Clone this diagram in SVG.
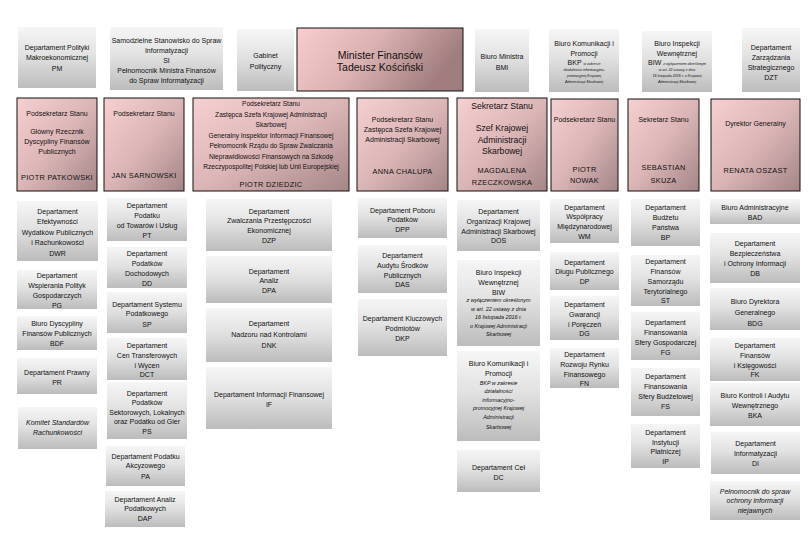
<svg xmlns="http://www.w3.org/2000/svg" width="810" height="540" viewBox="0 0 810 540">
<defs>
<linearGradient id="gg" x1="0" y1="0" x2="0" y2="1">
<stop offset="0" stop-color="#f6f6f6"/><stop offset="0.45" stop-color="#e2e2e2"/><stop offset="1" stop-color="#bcbcbc"/>
</linearGradient>
<linearGradient id="pg" x1="0" y1="0" x2="1" y2="1">
<stop offset="0" stop-color="#f6cfd0"/><stop offset="0.5" stop-color="#dcb6b7"/><stop offset="1" stop-color="#a48586"/>
</linearGradient>
<linearGradient id="mg" x1="0" y1="0" x2="1" y2="0.3">
<stop offset="0" stop-color="#f9cdce"/><stop offset="0.5" stop-color="#dbb1b2"/><stop offset="1" stop-color="#9f7d7e"/>
</linearGradient>
</defs>
<style>
.g{fill:url(#gg);}
.p{fill:url(#pg);stroke:#111;stroke-width:1;}
.m{fill:url(#mg);stroke:#111;stroke-width:1;}
text{font-family:"Liberation Sans",Arial,sans-serif;font-size:7px;fill:#111;text-anchor:middle;}
.s{font-size:6.6px;}
.n{font-size:7.4px;letter-spacing:0.3px;}
.i{font-style:italic;}
.tiny{font-size:3.6px;font-style:italic;}
.big{font-size:10.5px;}
.mid{font-size:8.6px;}
</style>
<rect width="810" height="540" fill="#fff"/>
<g id="connectors"></g>

<!-- top row -->
<g id="PM"><rect class="g" x="18" y="27" width="78" height="61"/>
<text><tspan x="57" y="49.5">Departament Polityki</tspan><tspan x="57" y="59.5">Makroekonomicznej</tspan><tspan x="57" y="70.5">PM</tspan></text></g>
<g id="SI"><rect class="g" x="110" y="27" width="113" height="63"/>
<text><tspan x="166.5" y="42.5">Samodzielne Stanowisko do Spraw</tspan><tspan x="166.5" y="52.5">Informatyzacji</tspan><tspan x="166.5" y="62.5">SI</tspan><tspan x="166.5" y="72.5">Pełnomocnik Ministra Finansów</tspan><tspan x="166.5" y="82.5">do Spraw Informatyzacji</tspan></text></g>
<g id="GP"><rect class="g" x="237" y="29" width="57" height="62"/>
<text><tspan x="265.5" y="57.5">Gabinet</tspan><tspan x="265.5" y="68.5">Polityczny</tspan></text></g>
<g id="MF"><rect class="m" x="297" y="28" width="166" height="63"/>
<text class="big"><tspan x="380" y="58.5">Minister Finansów</tspan><tspan x="380" y="70.5">Tadeusz Kościński</tspan></text></g>
<g id="BMI"><rect class="g" x="475" y="29" width="54" height="63"/>
<text><tspan x="502" y="58.5">Biuro Ministra</tspan><tspan x="502" y="69.5">BMI</tspan></text></g>
<g id="BKP-top"><rect class="g" x="549" y="29" width="70" height="63"/>
<text><tspan x="584" y="45.5">Biuro Komunikacji i</tspan><tspan x="584" y="55.5">Promocji</tspan><tspan x="584" y="64.5">BKP <tspan class="tiny">w zakresie</tspan></tspan><tspan class="tiny" x="584" y="70.5">działalności informacyjno-</tspan><tspan class="tiny" x="584" y="76.5">promocyjnej Krajowej</tspan><tspan class="tiny" x="584" y="82.5">Administracji Skarbowej</tspan></text></g>
<g id="BIW-top"><rect class="g" x="642" y="31" width="70" height="61"/>
<text><tspan x="677" y="45.5">Biuro Inspekcji</tspan><tspan x="677" y="55.5">Wewnętrznej</tspan><tspan x="677" y="64.5">BIW <tspan class="tiny">z wyłączeniem określonym</tspan></tspan><tspan class="tiny" x="677" y="70.5">w art. 22 ustawy z dnia</tspan><tspan class="tiny" x="677" y="76.5">16 listopada 2016 r. o Krajowej</tspan><tspan class="tiny" x="677" y="82.5">Administracji Skarbowej</tspan></text></g>
<g id="DZT"><rect class="g" x="742" y="28" width="58" height="64"/>
<text><tspan x="771" y="49.5">Departament</tspan><tspan x="771" y="59.5">Zarządzania</tspan><tspan x="771" y="69.5">Strategicznego</tspan><tspan x="771" y="79.5">DZT</tspan></text></g>

<!-- second row -->
<g id="PS1"><rect class="p" x="17" y="98" width="80" height="93"/>
<text><tspan x="57" y="115.5">Podsekretarz Stanu</tspan><tspan x="57" y="133.5">Główny Rzecznik</tspan><tspan x="57" y="143.5">Dyscypliny Finansów</tspan><tspan x="57" y="153.5">Publicznych</tspan><tspan class="n" x="57" y="179.5">PIOTR PATKOWSKI</tspan></text></g>
<g id="PS2"><rect class="p" x="104" y="98" width="80" height="93"/>
<text><tspan x="144" y="115.5">Podsekretarz Stanu</tspan><tspan class="n" x="144" y="177.5">JAN SARNOWSKI</tspan></text></g>
<g id="PS3"><rect class="p" x="193" y="98" width="156" height="93"/>
<text class="s"><tspan x="271" y="105.5">Podsekretarz Stanu</tspan><tspan x="271" y="116.5">Zastępca Szefa Krajowej Administracji</tspan><tspan x="271" y="127">Skarbowej</tspan><tspan x="271" y="137.5">Generalny Inspektor Informacji Finansowej</tspan><tspan x="271" y="148">Pełnomocnik Rządu do Spraw Zwalczania</tspan><tspan x="271" y="158.5">Nieprawidłowości Finansowych na Szkodę</tspan><tspan x="271" y="169">Rzeczypospolitej Polskiej lub Unii Europejskiej</tspan><tspan class="n" x="271" y="186.5">PIOTR DZIEDZIC</tspan></text></g>
<g id="PS4"><rect class="p" x="357" y="98" width="91" height="93"/>
<text><tspan x="402.5" y="121.5">Podsekretarz Stanu</tspan><tspan x="402.5" y="131.5">Zastępca Szefa Krajowej</tspan><tspan x="402.5" y="141.5">Administracji Skarbowej</tspan><tspan class="n" x="402.5" y="173.5">ANNA CHALUPA</tspan></text></g>
<g id="SS1"><rect class="p" x="457" y="98" width="90" height="93"/>
<text><tspan class="mid" x="502" y="108.5">Sekretarz Stanu</tspan><tspan class="mid" x="502" y="131">Szef Krajowej</tspan><tspan class="mid" x="502" y="142.5">Administracji</tspan><tspan class="mid" x="502" y="154">Skarbowej</tspan><tspan class="n" x="502" y="172.5">MAGDALENA</tspan><tspan class="n" x="502" y="184.5">RZECZKOWSKA</tspan></text></g>
<g id="PS5"><rect class="p" x="551" y="99" width="67" height="92"/>
<text><tspan x="584.5" y="121.5">Podsekretarz Stanu</tspan><tspan class="n" x="584.5" y="171.5">PIOTR</tspan><tspan class="n" x="584.5" y="182.5">NOWAK</tspan></text></g>
<g id="SS2"><rect class="p" x="628" y="99" width="71" height="92"/>
<text><tspan x="663.5" y="121.5">Sekretarz Stanu</tspan><tspan class="n" x="663.5" y="169.5">SEBASTIAN</tspan><tspan class="n" x="663.5" y="182.5">SKUZA</tspan></text></g>
<g id="DG-GEN"><rect class="p" x="711" y="99" width="89" height="92"/>
<text><tspan x="755.5" y="125.5">Dyrektor Generalny</tspan><tspan class="n" x="755.5" y="172.5">RENATA OSZAST</tspan></text></g>

<!-- column 1 -->
<g id="DWR"><rect class="g" x="17" y="201" width="81" height="60"/>
<text><tspan x="57.5" y="213.5">Departament</tspan><tspan x="57.5" y="223.5">Efektywności</tspan><tspan x="57.5" y="234.5">Wydatków Publicznych</tspan><tspan x="57.5" y="244.5">i Rachunkowości</tspan><tspan x="57.5" y="255.5">DWR</tspan></text></g>
<g id="PG"><rect class="g" x="17" y="270" width="80" height="39"/>
<text><tspan x="57" y="277.5">Departament</tspan><tspan x="57" y="287.5">Wspierania Polityk</tspan><tspan x="57" y="297.5">Gospodarczych</tspan><tspan x="57" y="307.5">PG</tspan></text></g>
<g id="BDF"><rect class="g" x="17" y="316" width="80" height="34"/>
<text><tspan x="57" y="325.5">Biuro Dyscypliny</tspan><tspan x="57" y="335.5">Finansów Publicznych</tspan><tspan x="57" y="345.5">BDF</tspan></text></g>
<g id="PR"><rect class="g" x="17" y="358" width="80" height="36"/>
<text><tspan x="57" y="374.5">Departament Prawny</tspan><tspan x="57" y="384.5">PR</tspan></text></g>
<g id="KSR"><rect class="g" x="18" y="407" width="79" height="42"/>
<text class="i"><tspan x="57.5" y="425">Komitet Standardów</tspan><tspan x="57.5" y="434.5">Rachunkowości</tspan></text></g>

<!-- column 2 -->
<g id="PT"><rect class="g" x="107" y="198" width="80" height="43"/>
<text><tspan x="147" y="207.5">Departament</tspan><tspan x="147" y="217.5">Podatku</tspan><tspan x="147" y="227.5">od Towarów i Usług</tspan><tspan x="147" y="237.5">PT</tspan></text></g>
<g id="DD"><rect class="g" x="107" y="247" width="80" height="41"/>
<text><tspan x="147" y="255.5">Departament</tspan><tspan x="147" y="265.5">Podatków</tspan><tspan x="147" y="275.5">Dochodowych</tspan><tspan x="147" y="285.5">DD</tspan></text></g>
<g id="SP"><rect class="g" x="107" y="292" width="80" height="41"/>
<text><tspan x="147" y="306.5">Departament Systemu</tspan><tspan x="147" y="315.5">Podatkowego</tspan><tspan x="147" y="326.5">SP</tspan></text></g>
<g id="DCT"><rect class="g" x="107" y="338" width="80" height="42"/>
<text><tspan x="147" y="347.5">Departament</tspan><tspan x="147" y="357.5">Cen Transferowych</tspan><tspan x="147" y="367.5">i Wycen</tspan><tspan x="147" y="376.5">DCT</tspan></text></g>
<g id="PS"><rect class="g" x="107" y="382" width="80" height="57"/>
<text><tspan x="147" y="395.5">Departament</tspan><tspan x="147" y="404.5">Podatków</tspan><tspan x="147" y="414.5">Sektorowych, Lokalnych</tspan><tspan x="147" y="423.5">oraz Podatku od Gier</tspan><tspan x="147" y="433.5">PS</tspan></text></g>
<g id="PA"><rect class="g" x="106" y="446" width="79" height="40"/>
<text><tspan x="145.5" y="458.5">Departament Podatku</tspan><tspan x="145.5" y="467.5">Akcyzowego</tspan><tspan x="145.5" y="478.5">PA</tspan></text></g>
<g id="DAP"><rect class="g" x="105" y="491" width="80" height="36"/>
<text><tspan x="145" y="501.5">Departament Analiz</tspan><tspan x="145" y="510.5">Podatkowych</tspan><tspan x="145" y="520.5">DAP</tspan></text></g>

<!-- column 3 -->
<g id="DZP"><rect class="g" x="206" y="199" width="126" height="52"/>
<text><tspan x="269" y="213.5">Departament</tspan><tspan x="269" y="222.5">Zwalczania Przestępczości</tspan><tspan x="269" y="232.5">Ekonomicznej</tspan><tspan x="269" y="242.5">DZP</tspan></text></g>
<g id="DPA"><rect class="g" x="206" y="256" width="126" height="47"/>
<text><tspan x="269" y="273.5">Departament</tspan><tspan x="269" y="282.5">Analiz</tspan><tspan x="269" y="292.5">DPA</tspan></text></g>
<g id="DNK"><rect class="g" x="206" y="308" width="126" height="54"/>
<text><tspan x="269" y="325.5">Departament</tspan><tspan x="269" y="336.5">Nadzoru nad Kontrolami</tspan><tspan x="269" y="347.5">DNK</tspan></text></g>
<g id="IF"><rect class="g" x="206" y="367" width="126" height="62"/>
<text><tspan x="269" y="396.5">Departament Informacji Finansowej</tspan><tspan x="269" y="406.5">IF</tspan></text></g>

<!-- column 4 -->
<g id="DPP"><rect class="g" x="358" y="198" width="89" height="40"/>
<text><tspan x="402.5" y="212.5">Departament Poboru</tspan><tspan x="402.5" y="221.5">Podatków</tspan><tspan x="402.5" y="231.5">DPP</tspan></text></g>
<g id="DAS"><rect class="g" x="358" y="245" width="89" height="48"/>
<text><tspan x="402.5" y="257.5">Departament</tspan><tspan x="402.5" y="267.5">Audytu Środków</tspan><tspan x="402.5" y="277.5">Publicznych</tspan><tspan x="402.5" y="286.5">DAS</tspan></text></g>
<g id="DKP"><rect class="g" x="358" y="299" width="89" height="57"/>
<text><tspan x="402.5" y="320.5">Departament Kluczowych</tspan><tspan x="402.5" y="330.5">Podmiotów</tspan><tspan x="402.5" y="340.5">DKP</tspan></text></g>

<!-- column 5 -->
<g id="DOS"><rect class="g" x="457" y="200" width="83" height="51"/>
<text><tspan x="498.5" y="213.5">Departament</tspan><tspan x="498.5" y="223.5">Organizacji Krajowej</tspan><tspan x="498.5" y="233.5">Administracji Skarbowej</tspan><tspan x="498.5" y="242.5">DOS</tspan></text></g>
<g id="BIW"><rect class="g" x="457" y="260" width="83" height="86"/>
<text><tspan x="498.5" y="274.5">Biuro Inspekcji</tspan><tspan x="498.5" y="284.5">Wewnętrznej</tspan><tspan x="498.5" y="294.5">BIW</tspan><tspan class="i" font-size="5.4" x="498.5" y="302">z wyłączeniem określonym</tspan><tspan class="i" font-size="5.4" x="498.5" y="311">w art. 22 ustawy z dnia</tspan><tspan class="i" font-size="5.4" x="498.5" y="319">16 listopada 2016 r.</tspan><tspan class="i" font-size="5.4" x="498.5" y="328">o Krajowej Administracji</tspan><tspan class="i" font-size="5.4" x="498.5" y="336">Skarbowej</tspan></text></g>
<g id="BKP"><rect class="g" x="457" y="351" width="83" height="90"/>
<text><tspan x="498.5" y="365.5">Biuro Komunikacji i</tspan><tspan x="498.5" y="375.5">Promocji</tspan><tspan class="i" font-size="5.4" x="498.5" y="385">BKP w zakresie</tspan><tspan class="i" font-size="5.4" x="498.5" y="393">działalności</tspan><tspan class="i" font-size="5.4" x="498.5" y="402">informacyjno-</tspan><tspan class="i" font-size="5.4" x="498.5" y="410">promocyjnej Krajowej</tspan><tspan class="i" font-size="5.4" x="498.5" y="419">Administracji</tspan><tspan class="i" font-size="5.4" x="498.5" y="429">Skarbowej</tspan></text></g>
<g id="DC"><rect class="g" x="457" y="450" width="83" height="42"/>
<text><tspan x="498.5" y="469.5">Departament Ceł</tspan><tspan x="498.5" y="479.5">DC</tspan></text></g>

<!-- column 6 -->
<g id="WM"><rect class="g" x="550" y="199" width="69" height="44"/>
<text><tspan x="584.5" y="209.5">Departament</tspan><tspan x="584.5" y="218.5">Współpracy</tspan><tspan x="584.5" y="228.5">Międzynarodowej</tspan><tspan x="584.5" y="238.5">WM</tspan></text></g>
<g id="DP"><rect class="g" x="550" y="252" width="69" height="38"/>
<text><tspan x="584.5" y="264.5">Departament</tspan><tspan x="584.5" y="273.5">Długu Publicznego</tspan><tspan x="584.5" y="283.5">DP</tspan></text></g>
<g id="DG"><rect class="g" x="550" y="296" width="69" height="44"/>
<text><tspan x="584.5" y="306.5">Departament</tspan><tspan x="584.5" y="316.5">Gwarancji</tspan><tspan x="584.5" y="326.5">i Poręczeń</tspan><tspan x="584.5" y="335.5">DG</tspan></text></g>
<g id="FN"><rect class="g" x="550" y="348" width="69" height="40"/>
<text><tspan x="584.5" y="356.5">Departament</tspan><tspan x="584.5" y="366.5">Rozwoju Rynku</tspan><tspan x="584.5" y="376.5">Finansowego</tspan><tspan x="584.5" y="385.5">FN</tspan></text></g>

<!-- column 7 -->
<g id="BP"><rect class="g" x="631" y="199" width="69" height="47"/>
<text><tspan x="665.5" y="209.5">Departament</tspan><tspan x="665.5" y="219.5">Budżetu</tspan><tspan x="665.5" y="229.5">Państwa</tspan><tspan x="665.5" y="239.5">BP</tspan></text></g>
<g id="ST"><rect class="g" x="631" y="255" width="69" height="51"/>
<text><tspan x="665.5" y="263.5">Departament</tspan><tspan x="665.5" y="273.5">Finansów</tspan><tspan x="665.5" y="283.5">Samorządu</tspan><tspan x="665.5" y="293.5">Terytorialnego</tspan><tspan x="665.5" y="303">ST</tspan></text></g>
<g id="FG"><rect class="g" x="631" y="312" width="69" height="48"/>
<text><tspan x="665.5" y="324.5">Departament</tspan><tspan x="665.5" y="334.5">Finansowania</tspan><tspan x="665.5" y="344.5">Sfery Gospodarczej</tspan><tspan x="665.5" y="354.5">FG</tspan></text></g>
<g id="FS"><rect class="g" x="631" y="368" width="69" height="48"/>
<text><tspan x="665.5" y="378.5">Departament</tspan><tspan x="665.5" y="388.5">Finansowania</tspan><tspan x="665.5" y="398.5">Sfery Budżetowej</tspan><tspan x="665.5" y="408.5">FS</tspan></text></g>
<g id="IP"><rect class="g" x="631" y="424" width="69" height="44"/>
<text><tspan x="665.5" y="434.5">Departament</tspan><tspan x="665.5" y="444.5">Instytucji</tspan><tspan x="665.5" y="453.5">Płatniczej</tspan><tspan x="665.5" y="463.5">IP</tspan></text></g>

<!-- column 8 -->
<g id="BAD"><rect class="g" x="710" y="199" width="90" height="25"/>
<text><tspan x="755" y="209.5">Biuro Administracyjne</tspan><tspan x="755" y="219.5">BAD</tspan></text></g>
<g id="DB"><rect class="g" x="710" y="233" width="90" height="50"/>
<text><tspan x="755" y="245.5">Departament</tspan><tspan x="755" y="255.5">Bezpieczeństwa</tspan><tspan x="755" y="265.5">i Ochrony Informacji</tspan><tspan x="755" y="275.5">DB</tspan></text></g>
<g id="BDG"><rect class="g" x="710" y="288" width="90" height="42"/>
<text><tspan x="755" y="303.5">Biuro Dyrektora</tspan><tspan x="755" y="314.5">Generalnego</tspan><tspan x="755" y="325.5">BDG</tspan></text></g>
<g id="FK"><rect class="g" x="710" y="338" width="90" height="43"/>
<text><tspan x="755" y="347.5">Departament</tspan><tspan x="755" y="357.5">Finansów</tspan><tspan x="755" y="367.5">i Księgowości</tspan><tspan x="755" y="376.5">FK</tspan></text></g>
<g id="BKA"><rect class="g" x="710" y="383" width="90" height="43"/>
<text><tspan x="755" y="397.5">Biuro Kontroli i Audytu</tspan><tspan x="755" y="407.5">Wewnętrznego</tspan><tspan x="755" y="417.5">BKA</tspan></text></g>
<g id="DI"><rect class="g" x="711" y="432" width="89" height="42"/>
<text><tspan x="755.5" y="445.5">Departament</tspan><tspan x="755.5" y="455.5">Informatyzacji</tspan><tspan x="755.5" y="465.5">DI</tspan></text></g>
<g id="PION"><rect class="g" x="710" y="481" width="90" height="39"/>
<text class="i"><tspan x="755" y="493.5">Pełnomocnik do spraw</tspan><tspan x="755" y="502.5">ochrony informacji</tspan><tspan x="755" y="512.5">niejawnych</tspan></text></g>
</svg>
